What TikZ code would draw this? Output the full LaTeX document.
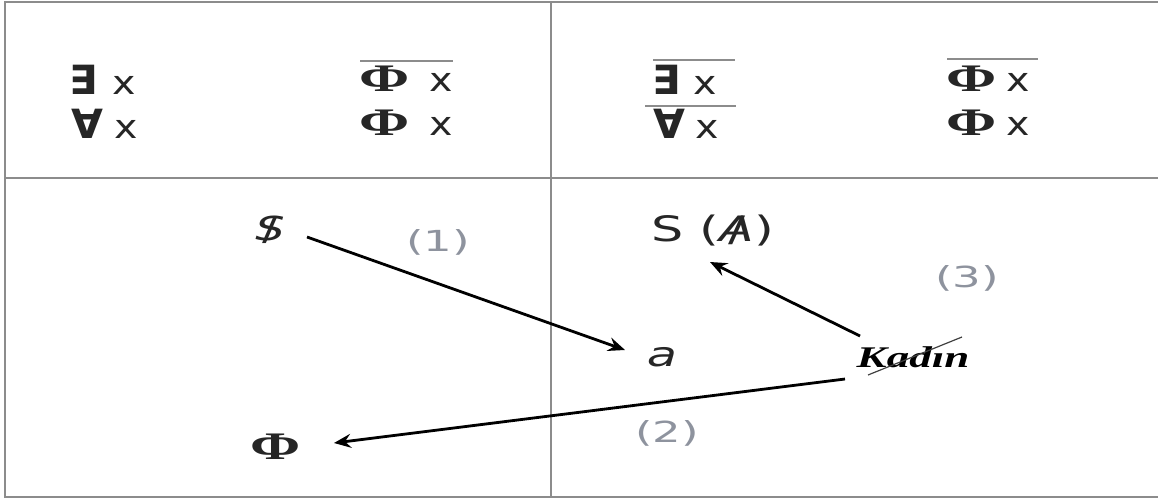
\documentclass[tikz,border=0pt]{standalone}
\usepackage{graphicx}
\usepackage{fontspec}
\setmainfont{DejaVu Sans}
\newfontfamily\phifont{Liberation Serif}
\usetikzlibrary{arrows.meta}
\definecolor{numgray}{RGB}{142,147,158}
\tikzset{
  frameline/.style={draw=black!45, line width=2pt},
  ovl/.style={draw=black!45, line width=1.5pt},
  lbl/.style={inner sep=0pt, font=\fontsize{33}{36}\selectfont, text=black!85},
  numlbl/.style={inner sep=0pt, font=\fontsize{29}{32}\selectfont, text=numgray},
  conn/.style={line width=2.8pt, -{Stealth[length=17pt,width=14pt,inset=6pt]}},
}
\newcommand{\sx}[2]{\scalebox{#1}[1]{#2}}
\newcommand{\qsym}[1]{\scalebox{1.25}[1.22]{\bfseries #1}}
\newcommand{\bphi}[1]{{\phifont\bfseries\fontsize{#1}{#1}\selectfont\sx{1.55}{Φ}}}
\begin{document}
\begin{tikzpicture}[x=1pt,y=-1pt]
\useasboundingbox (0,0) rectangle (1158,500);
% frame
\draw[frameline] (1158,2) -- (5,2) -- (5,497) -- (1158,497);
\draw[frameline] (5,178) -- (1158,178);
\draw[frameline] (551,2) -- (551,497);
% top-left
\node[lbl, anchor=west] (ex1) at (69,80) {\qsym{∃}\hspace{0.45em}\sx{1.2}{x}};
\node[lbl, anchor=west] (al1) at (71,124) {\qsym{∀}\hspace{0.35em}\sx{1.2}{x}};
\node[lbl, anchor=west] (ph1) at (359,79) {\bphi{39}\hspace{0.6em}\sx{1.2}{x}};
\node[lbl, anchor=west] (ph2) at (359,123) {\bphi{39}\hspace{0.6em}\sx{1.2}{x}};
\draw[ovl] (360,61) -- (453,61);
% top-right
\node[lbl, anchor=west] (ex2) at (652,80) {\qsym{∃}\hspace{0.4em}\sx{1.2}{x}};
\node[lbl, anchor=west] (al2) at (653,124) {\qsym{∀}\hspace{0.3em}\sx{1.2}{x}};
\draw[ovl] (653,60) -- (735,60);
\draw[ovl] (645,106) -- (736,106);
\node[lbl, anchor=west] (ph3) at (946,79) {\bphi{39}\hspace{0.3em}\sx{1.2}{x}};
\node[lbl, anchor=west] (ph4) at (946,123) {\bphi{39}\hspace{0.3em}\sx{1.2}{x}};
\draw[ovl] (947,59) -- (1038,59);
% lower
\node[inner sep=0pt, font=\fontsize{33}{36}\selectfont, text=black!85] (S1) at (270,230)
  {\sx{1.4}{\ooalign{\itshape S\cr\hidewidth/\hidewidth}}};
\node[numlbl] (n1) at (438,242) {\sx{1.55}{(1)}};
\node[inner sep=0pt, font=\fontsize{34}{36}\selectfont\itshape, text=black!85] (a) at (662,357) {\sx{1.45}{a}};
\node[inner sep=0pt, font=\fontsize{35}{38}\selectfont, text=black!85, anchor=west] (SA) at (651,231)
  {\sx{1.45}{S (\ooalign{\itshape A\cr\hidewidth/\hidewidth})}};
\node[numlbl] (n3) at (967,278) {\sx{1.55}{(3)}};
\node[inner sep=0pt, font=\fontsize{30}{32}\selectfont, text=black] (kad) at (913,357)
  {\sx{1.5}{\phifont\bfseries\itshape Kadın}};
\coordinate (ks1) at (868,375);
\coordinate (ks2) at (962,337);
\draw[black!75, line width=1.2pt] (ks1) -- (ks2);
\node[inner sep=0pt, text=black!85] (phi) at (276,447) {\bphi{39}};
\node[numlbl] (n2) at (667,433) {\sx{1.55}{(2)}};
% arrows
\coordinate (t1) at (307,237);
\coordinate (h1) at (625,350);
\draw[conn] (t1) -- (h1);
\coordinate (t3) at (860,336);
\coordinate (h3) at (710,262);
\draw[conn] (t3) -- (h3);
\coordinate (t2) at (845,379);
\coordinate (h2) at (334,443);
\draw[conn] (t2) -- (h2);
\end{tikzpicture}
\end{document}
